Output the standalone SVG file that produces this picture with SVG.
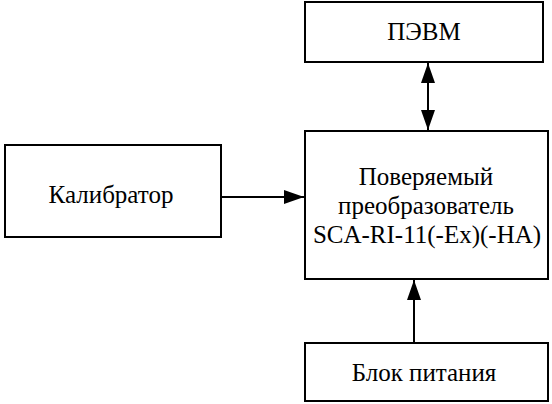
<svg xmlns="http://www.w3.org/2000/svg" width="552" height="404" viewBox="0 0 552 404">
<style>
.box{fill:#fff;stroke:#000;stroke-width:2}
.t{font-family:"Liberation Serif","Times New Roman",serif;font-size:25px;fill:#000;text-anchor:middle}
.c{stroke:#000;stroke-width:2;fill:none}
</style>
<defs>
<marker id="ah" viewBox="0 0 20 14" refX="20" refY="7" markerWidth="20" markerHeight="14" markerUnits="userSpaceOnUse" orient="auto-start-reverse">
<path d="M0,0 L20,7 L0,14 Z" fill="#000"/>
</marker>
</defs>
<rect width="552" height="404" fill="#fff"/>
<g id="pevm">
<rect class="box" x="305" y="2" width="238" height="60"/>
<text class="t" x="424" y="40">ПЭВМ</text>
</g>
<g id="calibrator">
<rect class="box" x="5" y="145" width="216" height="92"/>
<text class="t" x="111" y="203">Калибратор</text>
</g>
<g id="converter">
<rect class="box" x="305" y="131" width="243" height="148"/>
<text class="t" x="426" y="185">Поверяемый</text>
<text class="t" x="426" y="214">преобразователь</text>
<text class="t" x="427" y="243">SCA-RI-11(-Ex)(-HA)</text>
</g>
<g id="power">
<rect class="box" x="305" y="343" width="243" height="58"/>
<text class="t" x="424" y="381">Блок питания</text>
</g>
<g id="connectors">
<line class="c" x1="428" y1="63" x2="428" y2="130" marker-start="url(#ah)" marker-end="url(#ah)"/>
<line class="c" x1="222" y1="197" x2="304" y2="197" marker-end="url(#ah)"/>
<line class="c" x1="414" y1="342" x2="414" y2="280" marker-end="url(#ah)"/>
</g>
</svg>
